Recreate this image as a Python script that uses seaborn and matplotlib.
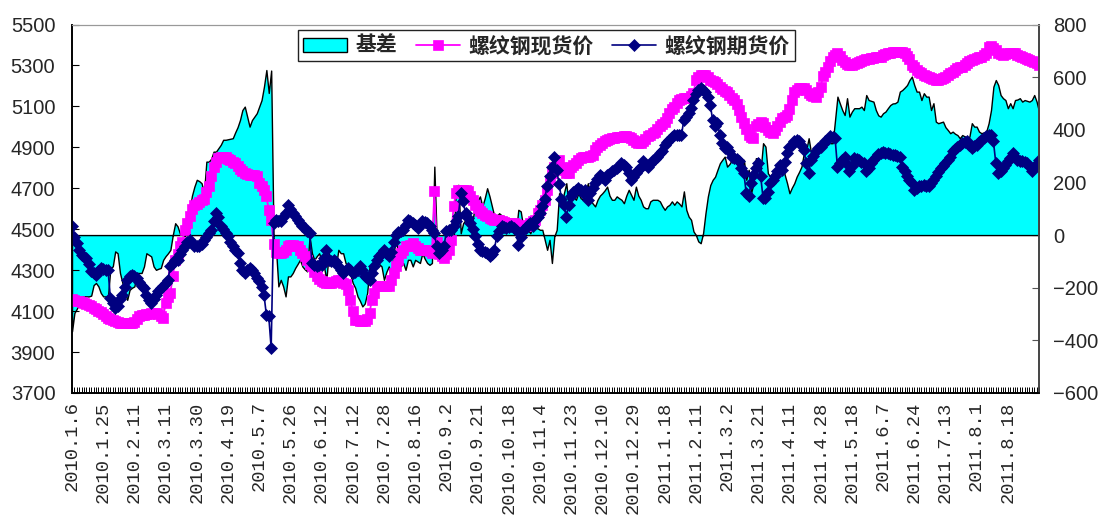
import matplotlib
matplotlib.use("Agg")
import matplotlib.pyplot as plt
import numpy as np
import seaborn as sns

# daily values, one row per label interval (13 trading days)
spot = [
    4159, 4155, 4150, 4148, 4145, 4140, 4135, 4130, 4124, 4115, 4108, 4100, 4095,
    4085, 4075, 4067, 4060, 4055, 4050, 4045, 4042, 4040, 4040, 4042, 4040, 4042,
    4045, 4060, 4078, 4080, 4082, 4085, 4088, 4090, 4091, 4090, 4088, 4075, 4067,
    4140, 4170, 4190, 4270, 4351, 4380, 4416, 4440, 4498, 4530, 4563, 4600, 4620,
    4625, 4635, 4644, 4650, 4680, 4709, 4760, 4806, 4830, 4847, 4852, 4855, 4855,
    4845, 4839, 4830, 4823, 4810, 4795, 4782, 4775, 4770, 4766, 4766, 4766, 4760,
    4725, 4709, 4690, 4660, 4595, 4546, 4430, 4390, 4384, 4384, 4390, 4400, 4416,
    4424, 4424, 4420, 4416, 4400, 4384, 4370, 4351, 4330, 4319, 4290, 4270, 4255,
    4246, 4240, 4238, 4238, 4238, 4240, 4245, 4254, 4250, 4238, 4230, 4205, 4156,
    4100, 4059, 4055, 4051, 4051, 4051, 4060, 4091, 4156, 4190, 4221, 4221, 4221,
    4221, 4221, 4221, 4250, 4286, 4319, 4351, 4384, 4400, 4416, 4416, 4425, 4433,
    4416, 4410, 4400, 4400, 4400, 4400, 4395, 4384, 4685, 4440, 4380, 4367, 4359,
    4380, 4400, 4449, 4611, 4676, 4693, 4693, 4693, 4690, 4685, 4660, 4644, 4620,
    4603, 4590, 4579, 4570, 4563, 4555, 4550, 4546, 4546, 4546, 4540, 4535, 4530,
    4530, 4530, 4528, 4525, 4520, 4514, 4514, 4518, 4522, 4530, 4540, 4546, 4579,
    4595, 4620, 4644, 4693, 4740, 4774, 4806, 4823, 4839, 4806, 4790, 4774, 4774,
    4806, 4815, 4825, 4839, 4848, 4855, 4855, 4855, 4860, 4863, 4888, 4900, 4912,
    4920, 4929, 4935, 4940, 4945, 4948, 4950, 4950, 4952, 4953, 4953, 4950, 4945,
    4935, 4925, 4920, 4922, 4929, 4940, 4953, 4962, 4970, 4977, 4990, 5002, 5015,
    5026, 5045, 5067, 5085, 5099, 5115, 5132, 5138, 5140, 5140, 5140, 5150, 5164,
    5229, 5245, 5254, 5254, 5254, 5245, 5229, 5225, 5221, 5210, 5197, 5185, 5175,
    5172, 5155, 5140, 5132, 5110, 5083, 5050, 5018, 4990, 4961, 4950, 4945, 5002,
    5015, 5026, 5020, 5000, 4985, 4975, 4969, 4985, 5002, 5025, 5042, 5050, 5059,
    5085, 5130, 5172, 5180, 5189, 5189, 5189, 5180, 5165, 5156, 5150, 5148, 5170,
    5197, 5246, 5270, 5294, 5320, 5343, 5350, 5359, 5345, 5327, 5315, 5305, 5302,
    5302, 5305, 5310, 5315, 5320, 5327, 5330, 5333, 5335, 5338, 5343, 5343, 5343,
    5350, 5355, 5359, 5362, 5365, 5368, 5368, 5368, 5365, 5359, 5345, 5330, 5302,
    5290, 5278, 5270, 5262, 5255, 5246, 5242, 5237, 5233, 5229, 5229, 5233, 5237,
    5245, 5254, 5262, 5270, 5278, 5286, 5290, 5294, 5302, 5310, 5320, 5327, 5332,
    5335, 5340, 5343, 5350, 5359, 5392, 5395, 5385, 5376, 5359, 5355, 5351, 5355,
    5359, 5359, 5359, 5359, 5352, 5346, 5340, 5335, 5330, 5327, 5320, 5315, 5310,
    5302,
]

futures = [
    4514, 4460, 4434, 4400, 4375, 4365, 4359, 4330, 4294, 4285, 4278, 4295, 4310,
    4305, 4302, 4302, 4165, 4140, 4116, 4125, 4160, 4180, 4220, 4254, 4270, 4278,
    4270, 4262, 4240, 4221, 4213, 4180, 4156, 4140, 4160, 4181, 4200, 4213, 4225,
    4237, 4254, 4318, 4335, 4351, 4351, 4380, 4400, 4420, 4440, 4449, 4435, 4420,
    4416, 4416, 4430, 4449, 4460, 4480, 4498, 4540, 4579, 4560, 4514, 4500, 4480,
    4465, 4440, 4416, 4400, 4384, 4335, 4300, 4286, 4302, 4311, 4300, 4286, 4262,
    4245, 4220, 4180, 4083, 4075, 3920, 4530, 4546, 4540, 4538, 4560, 4579, 4620,
    4600, 4579, 4563, 4545, 4530, 4515, 4506, 4490, 4481, 4335, 4325, 4319, 4323,
    4327, 4360, 4400, 4351, 4345, 4351, 4340, 4319, 4300, 4286, 4300, 4311, 4300,
    4286, 4290, 4300, 4319, 4300, 4270, 4260, 4254, 4286, 4320, 4351, 4370, 4384,
    4400, 4385, 4367, 4390, 4440, 4470, 4485, 4489, 4498, 4520, 4546, 4540, 4530,
    4520, 4506, 4520, 4538, 4535, 4530, 4514, 4495, 4481, 4416, 4384, 4400, 4416,
    4489, 4495, 4498, 4514, 4540, 4563, 4676, 4636, 4579, 4555, 4530, 4500, 4465,
    4430, 4400, 4395, 4390, 4384, 4367, 4380, 4400, 4465, 4490, 4514, 4510, 4506,
    4510, 4514, 4505, 4498, 4424, 4460, 4498, 4506, 4520, 4530, 4514, 4546, 4560,
    4579, 4611, 4650, 4709, 4760, 4806, 4855, 4790, 4720, 4650, 4620, 4560, 4620,
    4660, 4680, 4693, 4701, 4690, 4676, 4693, 4644, 4676, 4700, 4725, 4745, 4766,
    4755, 4741, 4766, 4770, 4782, 4790, 4798, 4810, 4823, 4815, 4806, 4775, 4741,
    4755, 4774, 4790, 4806, 4831, 4820, 4806, 4820, 4839, 4845, 4855, 4870, 4880,
    4912, 4925, 4937, 4950, 4961, 4961, 4961, 4961, 5034, 5050, 5070, 5091, 5132,
    5160, 5181, 5189, 5180, 5172, 5148, 5107, 5034, 5002, 5018, 4960, 4920, 4896,
    4904, 4880, 4855, 4850, 4845, 4831, 4800, 4774, 4676, 4660, 4725, 4766, 4800,
    4823, 4760, 4652, 4652, 4680, 4725, 4741, 4760, 4782, 4815, 4790, 4830, 4872,
    4900, 4912, 4930, 4937, 4929, 4910, 4888, 4823, 4774, 4839, 4860, 4880, 4895,
    4904, 4915, 4929, 4940, 4953, 4950, 4945, 4806, 4825, 4839, 4855, 4820, 4782,
    4810, 4847, 4845, 4839, 4830, 4823, 4782, 4800, 4823, 4840, 4855, 4865, 4872,
    4875, 4872, 4870, 4868, 4863, 4863, 4860, 4855, 4806, 4782, 4758, 4740, 4725,
    4693, 4700, 4709, 4713, 4717, 4713, 4709, 4725, 4740, 4758, 4780, 4798, 4810,
    4823, 4840, 4855, 4880, 4890, 4904, 4912, 4920, 4925, 4929, 4910, 4896, 4905,
    4912, 4925, 4937, 4945, 4953, 4958, 4961, 4929, 4823, 4774, 4785, 4798, 4815,
    4831, 4850, 4872, 4855, 4839, 4835, 4831, 4827, 4823, 4810, 4782, 4806, 4820,
    4839,
]

basis = [
    -366, -296, -280, -260, -233, -233, -233, -233, -230, -190, -182, -195, -220,
    -233, -233, -233, -125, -119, -62, -69, -144, -182, -220, -246, -208, -200,
    -195, -144, -144, -144, -119, -69, -75, -81, -119, -132, -128, -125, -94,
    -80, -69, -56, 0, 45, 33, 5, 1, -3, 7, 96, 150, 184,
    210, 205, 197, 159, 279, 279, 290, 317, 317, 330, 343, 362, 362,
    364, 366, 368, 390, 410, 437, 475, 488, 450, 412, 437, 450, 463,
    488, 513, 564, 627, 540, 625, -10, -50, -195, -170, -195, -233, -157,
    -157, -144, -125, -110, -94, -119, -130, -138, -5, -69, -94, -80, -69,
    -100, -119, -170, -69, -94, -94, -119, -56, -69, -69, -106, -119, -150,
    -182, -200, -233, -250, -271, -260, -220, -119, -144, -94, -100, -110, -119,
    -170, -140, -119, -157, -69, -18, -69, -119, -106, -132, -94, -94, -119,
    -94, -100, -106, -69, -90, -106, -113, -106, 260, -18, -40, -56, -69,
    -56, -50, -43, -30, 184, 191, 7, 45, 58, 45, 50, 58, 121,
    130, 147, 109, 140, 178, 147, 109, 71, 71, 83, 75, 71, 45,
    45, 33, 20, 7, 96, 90, 33, 45, 20, 7, 33, 26, 26,
    20, 20, -18, -56, -18, -106, -5, 20, 159, 109, 159, 197, 109,
    140, 147, 134, 159, 140, 134, 166, 197, 134, 120, 109, 134, 150,
    159, 170, 184, 150, 134, 134, 147, 140, 134, 121, 150, 172, 153,
    134, 184, 150, 134, 109, 102, 102, 128, 134, 134, 134, 128, 110,
    96, 109, 115, 128, 115, 128, 120, 109, 166, 96, 70, 58, 14,
    0, -24, -31, 7, 83, 147, 190, 210, 222, 248, 273, 286, 298,
    260, 270, 286, 298, 280, 260, 235, 286, 210, 248, 159, 197, 292,
    292, 248, 349, 336, 235, 222, 235, 250, 260, 235, 273, 230, 197,
    159, 180, 197, 222, 240, 260, 311, 324, 368, 311, 330, 330, 343,
    343, 336, 350, 362, 349, 349, 437, 526, 500, 475, 456, 520, 450,
    469, 482, 482, 482, 488, 475, 532, 513, 510, 507, 475, 455, 450,
    463, 469, 482, 494, 500, 501, 507, 545, 551, 560, 570, 589, 602,
    570, 545, 545, 513, 539, 526, 526, 475, 501, 431, 425, 428, 431,
    410, 399, 387, 393, 385, 380, 368, 380, 375, 368, 374, 425, 412,
    412, 393, 387, 390, 393, 425, 475, 564, 589, 570, 532, 520, 513,
    482, 501, 482, 513, 515, 520, 507, 513, 510, 507, 513, 532, 507,
    469,
]

tick_labels = [
    "2010.1.6", "2010.1.25", "2010.2.11", "2010.3.11", "2010.3.30", "2010.4.19",
    "2010.5.7", "2010.5.26", "2010.6.12", "2010.7.12", "2010.7.28", "2010.8.16",
    "2010.9.2", "2010.9.21", "2010.10.18", "2010.11.4", "2010.11.23", "2010.12.10",
    "2010.12.29", "2011.1.18", "2011.2.11", "2011.3.2", "2011.3.21", "2011.4.11",
    "2011.4.28", "2011.5.18", "2011.6.7", "2011.6.24", "2011.7.13", "2011.8.1",
    "2011.8.18",
]
label_step = 13

n = min(len(spot), len(futures), len(basis))
spot, futures, basis = spot[:n], futures[:n], basis[:n]
days = np.arange(n)

sns.set_theme(style="ticks")
plt.rcParams["font.family"] = ["Liberation Sans", "Noto Sans CJK SC", "DejaVu Sans"]

fig = plt.figure(figsize=(10.99, 5.18), dpi=100)
ax = fig.add_axes([72 / 1099, 1 - 393 / 518, 967 / 1099, 368.5 / 518])
ax_r = ax.twinx()
# prices above the basis area
ax.set_zorder(ax_r.get_zorder() + 1)
ax.patch.set_visible(False)

area = ax_r.fill_between(days, basis, 0, facecolor="#00FFFF", edgecolor="black",
                         linewidth=1.0, label="基差")
sns.lineplot(x=days, y=spot, ax=ax, color="#FF00FF", marker="s", markersize=6.5,
             markeredgecolor="#FF00FF", markeredgewidth=0.5, linewidth=1.3,
             label="螺纹钢现货价")
sns.lineplot(x=days, y=futures, ax=ax, color="#000080", marker="D", markersize=6.0,
             markeredgecolor="#000080", markeredgewidth=0.5, linewidth=1.2,
             label="螺纹钢期货价")

ax.set_xlim(0, n - 1)
ax.set_ylim(3700, 5500)
ax.set_yticks(range(3700, 5501, 200))
ax_r.set_ylim(-600, 800)
ax_r.set_yticks(range(-600, 801, 200))
ax.set_xlabel("")
ax.set_ylabel("")

ax.set_xticks(days[::label_step][:len(tick_labels)])
ax.set_xticklabels(tick_labels, rotation=90, fontfamily="Liberation Mono", fontsize=13.5)
ax.set_xticks(days, minor=True)
ax.tick_params(axis="x", which="both", direction="in", length=4, width=0.7,
               color="black", pad=6, bottom=True, top=False)
ax.tick_params(axis="y", direction="in", length=5, width=0.8, color="black",
               labelsize=14.5, pad=12, left=True, right=False)
ax_r.tick_params(axis="y", direction="in", length=5, width=0.8, color="#555555",
                 labelsize=14.5, pad=10, right=True, left=False)

for a in (ax, ax_r):
    a.spines["left"].set_color("black")
    a.spines["bottom"].set_color("black")
    a.spines["right"].set_color("#444444")
    a.spines["top"].set_color("#999999")
    for s in ("left", "bottom", "right"):
        a.spines[s].set_linewidth(1.2)
    a.spines["top"].set_linewidth(0.8)

handles = [area] + ax.get_legend_handles_labels()[0][:2]
labels = ["基差", "螺纹钢现货价", "螺纹钢期货价"]
leg = ax.legend(handles, labels, loc="upper left", bbox_to_anchor=(0.234, 0.985),
                ncol=3, frameon=True, fancybox=False, framealpha=1, edgecolor="#222222",
                prop={"family": ["Noto Sans CJK SC"], "size": 15, "weight": "bold"},
                handlelength=2.1, handleheight=0.6, handletextpad=0.4,
                columnspacing=0.9, borderpad=0.25, borderaxespad=0)
leg.get_frame().set_linewidth(1.0)

fig.savefig("out.png", dpi=100)
